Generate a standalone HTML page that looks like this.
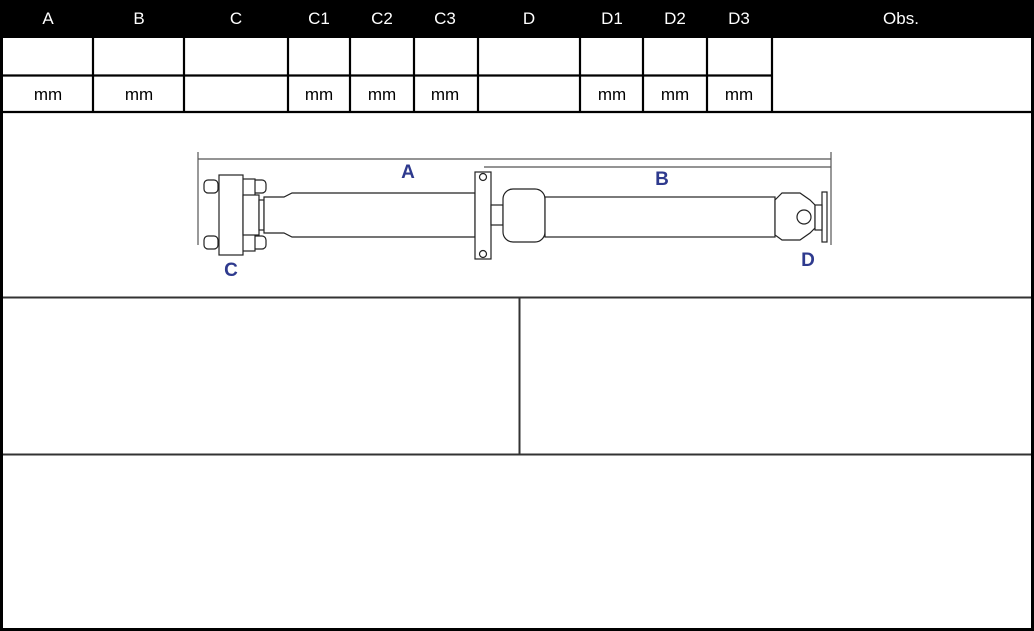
<!DOCTYPE html>
<html><head><meta charset="utf-8"><style>
html,body{margin:0;padding:0;background:#fff;width:1034px;height:631px;overflow:hidden}
svg{display:block}
text{font-family:"Liberation Sans",sans-serif}
</style></head><body>
<svg width="1034" height="631" viewBox="0 0 1034 631" xmlns="http://www.w3.org/2000/svg">
<rect x="0" y="0" width="1034" height="631" fill="#fff"/>
<!-- header -->
<rect x="0" y="0" width="1034" height="38" fill="#000"/>
<g fill="#fff" font-size="17" text-anchor="middle">
<text x="48" y="24">A</text><text x="139" y="24">B</text><text x="236" y="24">C</text>
<text x="319" y="24">C1</text><text x="382" y="24">C2</text><text x="445" y="24">C3</text>
<text x="529" y="24">D</text><text x="612" y="24">D1</text><text x="675" y="24">D2</text>
<text x="739" y="24">D3</text><text x="901" y="24">Obs.</text>
</g>
<!-- grid -->
<g stroke="#000" stroke-width="2.2" fill="none">
<line x1="0" y1="75.5" x2="772" y2="75.5"/>
<line x1="0" y1="112" x2="1034" y2="112"/>
<line x1="93" y1="38" x2="93" y2="112"/><line x1="184" y1="38" x2="184" y2="112"/>
<line x1="288" y1="38" x2="288" y2="112"/><line x1="350" y1="38" x2="350" y2="112"/>
<line x1="414" y1="38" x2="414" y2="112"/><line x1="478" y1="38" x2="478" y2="112"/>
<line x1="580" y1="38" x2="580" y2="112"/><line x1="643" y1="38" x2="643" y2="112"/>
<line x1="707" y1="38" x2="707" y2="112"/><line x1="772" y1="38" x2="772" y2="112"/>
</g>
<g fill="#000" font-size="17" text-anchor="middle">
<text x="48" y="100">mm</text><text x="139" y="100">mm</text>
<text x="319" y="100">mm</text><text x="382" y="100">mm</text><text x="445" y="100">mm</text>
<text x="612" y="100">mm</text><text x="675" y="100">mm</text><text x="739" y="100">mm</text>
</g>
<g stroke="#333" stroke-width="2" fill="none">
<line x1="0" y1="297.5" x2="1034" y2="297.5"/>
<line x1="0" y1="454.5" x2="1034" y2="454.5"/>
<line x1="519.5" y1="298" x2="519.5" y2="454"/>
</g>
<!-- outer border -->
<rect x="1.5" y="1.5" width="1031" height="628" fill="none" stroke="#000" stroke-width="3"/>
<!-- drawing -->
<g stroke="#555" stroke-width="1.2" fill="none">
<line x1="198" y1="152" x2="198" y2="245"/>
<line x1="198" y1="159" x2="831" y2="159"/>
<line x1="484" y1="167" x2="831" y2="167"/>
<line x1="831" y1="152" x2="831" y2="245"/>
</g>
<g stroke="#222" stroke-width="1.2" fill="#fff">
<!-- C flange -->
<rect x="204" y="180" width="14" height="13" rx="4"/><rect x="204" y="236" width="14" height="13" rx="4"/>
<rect x="252" y="180" width="14" height="13" rx="4"/><rect x="252" y="236" width="14" height="13" rx="4"/>
<rect x="235" y="179" width="20" height="72"/>
<rect x="219" y="175" width="24" height="80"/>
<rect x="243" y="195" width="16" height="40"/>
<rect x="259" y="200" width="5" height="30"/>
<path d="M264 197 L284 197 L292 193 L475 193 L475 237 L292 237 L284 233 L264 233 Z"/>
<!-- center bearing -->
<rect x="475" y="172" width="16" height="87"/>
<circle cx="483" cy="177" r="3.5"/><circle cx="483" cy="254" r="3.5"/>
<rect x="491" y="205" width="12" height="20"/>
<rect x="503" y="189" width="42" height="53" rx="10"/>
<rect x="545" y="197" width="230" height="40"/>
<path d="M775 200 L782 193 L800 193 L810 200 L815 205 L815 228 L810 233 L800 240 L782 240 L775 235 Z"/>
<circle cx="804" cy="217" r="7"/>
<rect x="822" y="192" width="5" height="50"/>
<rect x="815" y="205" width="7" height="25"/>
</g>
<g fill="#2e3a8e" font-size="19" font-weight="bold" text-anchor="middle">
<text x="408" y="178">A</text><text x="662" y="185">B</text>
<text x="231" y="276">C</text><text x="808" y="266">D</text>
</g>
</svg>
</body></html>
